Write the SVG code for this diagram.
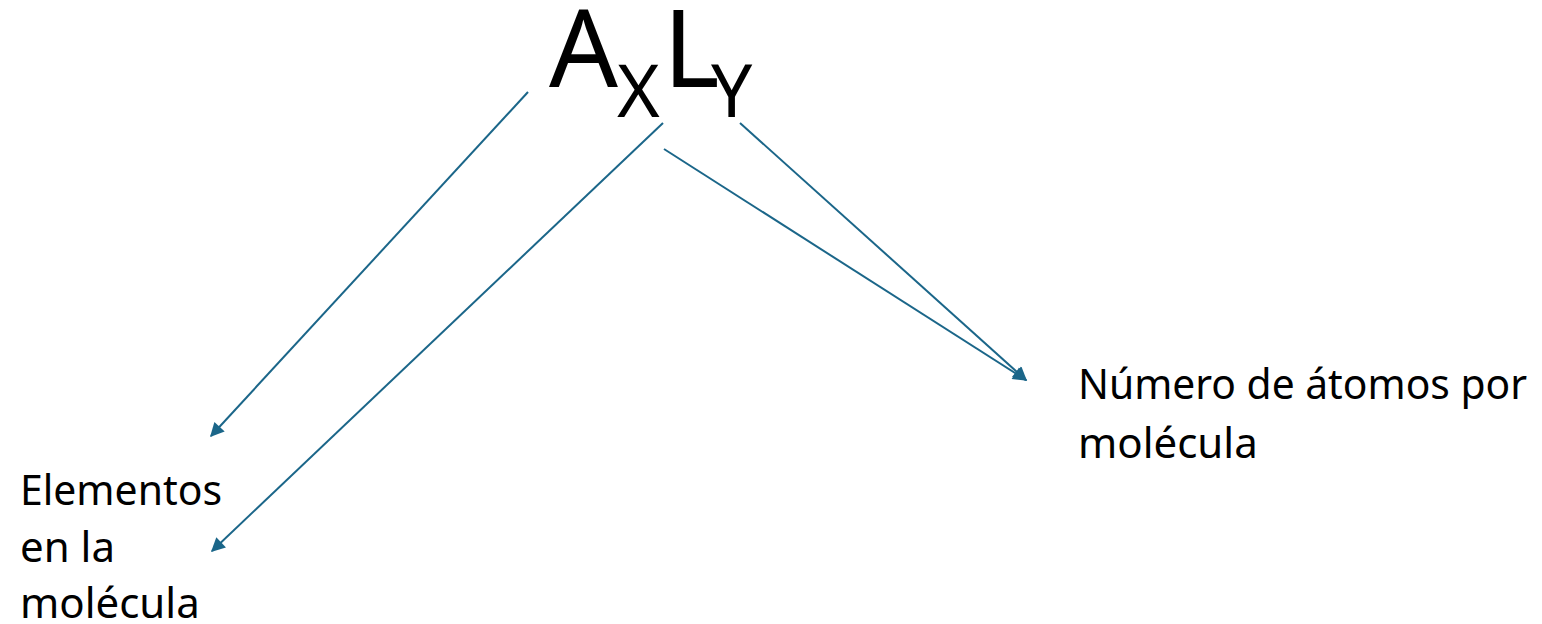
<svg xmlns="http://www.w3.org/2000/svg" width="1542" height="624" viewBox="0 0 1542 624">
<style>
.lbl{font-family:"Noto Sans","Open Sans","Liberation Sans",sans-serif;font-size:42px;fill:#000}
.f{font-family:"Noto Sans","Liberation Sans",Arial,sans-serif;fill:#000}
.c{stroke:#1b6689;stroke-width:2;fill:none;marker-end:url(#ah)}
</style>
<defs>
<marker id="ah" viewBox="0 0 10 10" refX="9" refY="5" markerWidth="8" markerHeight="7" orient="auto" markerUnits="strokeWidth">
<path d="M0,0 L10,5 L0,10 z" fill="#1b6689"/>
</marker>
</defs>
<rect width="1542" height="624" fill="#fff"/>
<g id="formula">
<text class="f" x="549" y="87" font-size="108">A</text>
<text class="f" x="617" y="117" font-size="73">X</text>
<text class="f" x="663" y="87" font-size="108">L</text>
<text class="f" x="711" y="117" font-size="73">Y</text>
</g>
<g id="elementos">
<text class="lbl" x="20" y="505" textLength="202" lengthAdjust="spacingAndGlyphs">Elementos</text>
<text class="lbl" x="20" y="562">en la</text>
<text class="lbl" x="20" y="618">molécula</text>
</g>
<g id="numero">
<text class="lbl" x="1078" y="399" textLength="449" lengthAdjust="spacingAndGlyphs">Número de átomos por</text>
<text class="lbl" x="1078" y="458">molécula</text>
</g>
<g id="connectors">
<line class="c" x1="528" y1="92" x2="211" y2="436"/>
<line class="c" x1="663" y1="123" x2="212" y2="551"/>
<line class="c" x1="664" y1="149" x2="1026" y2="380"/>
<line class="c" x1="740" y1="123" x2="1026" y2="380"/>
</g>
</svg>
